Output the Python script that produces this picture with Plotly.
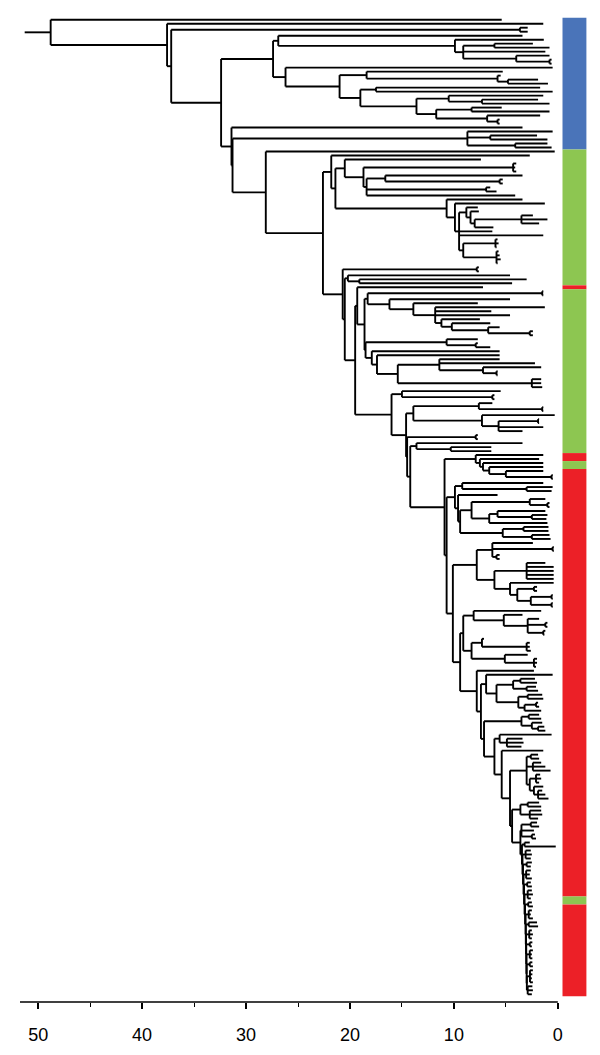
import plotly.graph_objects as go

# ---------------- DATA ----------------
# Tree notation: internal node = [node_age, child, child, ...]; leaf = tip value (axis units)
ROOT_STEM_START = 51.3

blue_D = [27.4,
          [26.9, 3.4,
           [9.9, 1.35,
            [9.1, [6.1, 2.4, 0.8], 1.2, [4.0, 0.8, [0.8, 0.6, 0.6]]]]],
          [26.2, 0.5,
           [21.0,
            [18.4, 5.3, [5.8, 5.5, [4.8, 1.9, 0.95]]],
            [19.0, [17.5, 1.7, 0.5],
             [13.6, [10.5, 1.4, [7.3, 1.9, 0.8]],
              [11.7, [8.3, 5.4, 0.8], [6.8, 1.7, [5.8, 5.6, 5.6]]]]]]]]

blue_E2_top = [8.7, 0.5, [6.5, 2.0, 1.0], [4.1, 1.0, 0.6]]

green_G1a = [20.5, 7.4,
             [18.7, [4.3, 4.0, 4.1, 4.0],
              [18.4, [16.6, 3.4, [5.6, 5.3, 5.3]], [6.9, 6.5, 5.9], 4.1]]]

green_G1b = [10.7, 3.4,
             [9.9, 1.25,
              [9.5, [8.8, 7.7, [8.4, 7.6, [8.0, [3.5, 2.4, 1.0, 1.8], 6.2]]],
               6.3, 1.4,
               [9.1, [6.0, 5.8, 5.7, 5.9], [5.9, 5.7, 5.6, 5.5, 5.8]]]]]

green_I1c = [18.3, [1.5, 1.4, 1.4],
             [16.2, 4.6,
              [13.9, 7.7,
               [11.8, 1.25, 6.4, 4.6,
                [11.2, 7.5, [10.2, 6.5, [6.7, 5.6, [2.7, 2.4, 2.4]]]]]]]]

green_I1d = [18.5, [10.7, 7.7, [7.9, 7.7, 6.5]],
             [17.9, 5.6,
              [17.4, 5.6,
               [15.4, [11.4, 5.6, 2.2, [7.2, 1.6, [5.9, 5.8, 5.8]]],
                [2.5, 1.6, 1.6, 1.5]]]]]

green_J_top = [15.0, 5.5, [6.3, 6.1, 6.1]]
green_K1 = [13.9, [7.6, 6.3, [1.5, 1.4, 1.4]],
            [7.3, 0.3, [5.7, [1.9, 1.8, 1.8], 1.4, 3.4]]]
green_K2_top = [7.9, 7.7, 7.7]
green_L_top = [13.6, 3.4, [10.3, 6.4, 6.4]]

red_R1 = [7.9, 1.4, [7.5, 1.8, [7.2, 1.4, [6.6, 1.4, [5.0, 1.4, [0.6, 0.5, 0.5]]]]]]
red_R2 = [9.9, [9.2, 1.4, [3.0, 0.5, 0.6]],
          [9.6, 5.8,
           [9.4, [8.3, [2.7, 1.2, [1.0, 0.8, 0.8]],
                  [6.6, [5.8, 1.2, [2.5, 1.0, 1.1]], 1.0]],
            [5.3, [3.3, 0.9, 0.9], [2.5, 0.8, 0.7]]]]]
red_P1 = [7.8, [6.3, 2.4, [0.5, 0.4, 0.4], [5.9, 5.6, 5.6]],
          [6.1, [3.0, 1.2, 0.4, 0.4, 0.4, 0.4],
           [4.6, 0.4, [3.9, [2.3, 2.0, 2.0], [2.6, [0.6, 0.5, 0.5], [0.6, 0.5, 0.5]]]]]]
red_Q_top = [9.1, [8.1, 1.6, [5.2, 3.4, [2.9, 1.8, [1.2, 1.0, 1.0], [1.4, 1.2, 1.3]]]],
             [8.3, [7.3, 7.1, [3.0, 2.7, 2.7, 2.6]], [5.1, 2.9, [2.3, 2.0, 2.0, 2.1]]]]
red_S1_side = [6.9, 0.5,
               [5.9, [4.3, [3.6, 2.2, 2.0], [3.0, 2.1, 1.9]],
                [3.8, [2.9, 1.5, 1.4], [3.2, [2.1, 1.9, 1.8], 1.6]]]]
red_S2_side = [3.5, [2.8, 1.8, 1.6], [2.5, 1.5, [1.9, 1.3, 1.2]]]
red_S3_side = [5.6, 0.6, [4.9, 3.4, 3.3, 3.5]]
red_S4_side = [3.0, [2.6, 1.9, 1.8], [2.4, 1.6, 1.2, 0.7],
               [2.7, [2.1, 1.7, 1.6, 1.8], [2.3, 1.4, [1.9, 1.5, 1.2, 0.9]]]]
red_S5_top = [3.6, [2.9, 1.8, 1.6], [2.7, 1.6, 1.5, 1.9]]
red_S5_mid = [3.5, [2.6, 2.0, 1.8], 2.3, [2.5, 2.2, 2.1]]

# basal comb of the red clade
comb_ages = [3.45, 3.4, 3.35, 3.3, 3.25, 3.2, 3.15, 3.1, 3.08, 3.06, 3.04, 3.02, 3.0, 2.98]
comb_sides = [[3.2, 2.7, 0.2], [3.1, 2.6, 2.5, 2.6], [3.0, 2.5, 2.6], [3.05, 2.6, 2.7, 2.5],
              [2.95, 2.6, 2.5], [2.9, 2.5, 2.4, 2.6], [2.85, 2.5, 2.4], [2.8, 2.5, 2.6, 2.4],
              [2.8, 2.0, 1.9], [2.75, 2.5, 2.4, 2.5], [2.7, 2.45, 2.5], [2.7, 2.4, 2.5, 2.45],
              [2.7, 2.45, 2.4], [2.68, 2.4, 2.45, 2.5, 2.4]]
comb_innermost = [2.9, 2.45, 2.4, 2.5]

# colour strip (leaf index ranges)
band_first_leaf = [0, 33, 67, 68, 109, 111, 113, 220, 222]
band_last_leaf = [32, 66, 67, 108, 110, 112, 219, 221, 244]
band_group = ["blue", "green", "red", "green", "red", "green", "red", "green", "red"]
group_colors = {"blue": "#4a74b9", "green": "#8dc651", "red": "#ec2027"}

x_tickvals = [50, 40, 30, 20, 10, 0]
x_minor_tickvals = [45, 35, 25, 15, 5]

# ---------------- TREE ASSEMBLY ----------------
S6 = comb_innermost
for age, side in zip(reversed(comb_ages), reversed(comb_sides)):
    S6 = [age, side, S6]
S5 = [4.4, red_S5_top, [3.6, red_S5_mid, S6]]
S4 = [5.4, 1.4, [4.6, red_S4_side, S5]]
S3 = [6.1, red_S3_side, S4]
S2 = [7.1, red_S2_side, S3]
S1 = [7.8, 2.3, [7.4, red_S1_side, S2]]
Q = [9.4, red_Q_top, S1]
M = [10.9, red_R1, [10.7, red_R2, [10.1, red_P1, Q]]]
L = [14.2, green_L_top, M]
K = [14.6, green_K1, [14.5, green_K2_top, L]]
J = [16.0, green_J_top, K]
I = [19.5, [19.3, 7.2, [18.6, green_I1c, green_I1d]], J]
H = [20.7, [7.8, 7.6, 7.6], [20.5, [20.2, 4.6, [19.1, 3.0, 4.4]], I]]
G1 = [21.8, 2.7, [21.4, green_G1a, green_G1b]]
F = [28.1, 0.3, [22.6, G1, H]]
E = [31.4, 3.4, [31.3, blue_E2_top, F]]
tree = [48.8, 5.4, [37.6, 1.4, [37.2, [3.65, 2.9, 2.9], [32.4, blue_D, E]]]]

xs, ys = [], []
counter = [0]


def seg(x0, y0, x1, y1):
    xs.extend([x0, x1, None])
    ys.extend([y0, y1, None])


def walk(node):
    if not isinstance(node, list):
        y = counter[0]
        counter[0] += 1
        return y, node
    age = node[0]
    res = [walk(c) for c in node[1:]]
    y = (res[0][0] + res[-1][0]) / 2.0
    seg(age, res[0][0], age, res[-1][0])
    for cy, cx in res:
        seg(age, cy, cx, cy)
    return y, age


root_y, root_age = walk(tree)
seg(ROOT_STEM_START, root_y, root_age, root_y)
n_leaves = counter[0]

fig = go.Figure()
fig.add_trace(go.Scatter(x=xs, y=ys, mode="lines",
                         line=dict(color="black", width=1.9),
                         hoverinfo="skip", showlegend=False))

shapes = []
for a, b, g in zip(band_first_leaf, band_last_leaf, band_group):
    shapes.append(dict(type="rect", xref="x", yref="y", x0=-0.45, x1=-2.75,
                       y0=a - 0.5, y1=b + 0.5, fillcolor=group_colors[g],
                       line=dict(width=0), layer="above"))
shapes.append(dict(type="line", xref="x", yref="paper", x0=51.75, x1=0, y0=0, y1=0,
                   line=dict(color="black", width=1.5)))

fig.update_layout(
    width=600, height=1055,
    margin=dict(l=12, r=19, t=2, b=61),
    paper_bgcolor="white", plot_bgcolor="white",
    shapes=shapes,
    xaxis=dict(range=[51.75, -3.0], tickvals=x_tickvals,
               ticktext=[str(v) for v in x_tickvals],
               ticks="outside", ticklen=6, tickwidth=1.5, tickcolor="black",
               minor=dict(tickvals=x_minor_tickvals, ticks="outside", ticklen=4,
                          tickwidth=1.2, tickcolor="black"),
               showgrid=False, zeroline=False, showline=False,
               tickfont=dict(family="Liberation Sans", size=18, color="black"),
               ticklabelstandoff=10),
    yaxis=dict(range=[n_leaves - 1 + 1.93, -2.43], visible=False,
               showgrid=False, zeroline=False),
)

fig.write_html("out.html")
